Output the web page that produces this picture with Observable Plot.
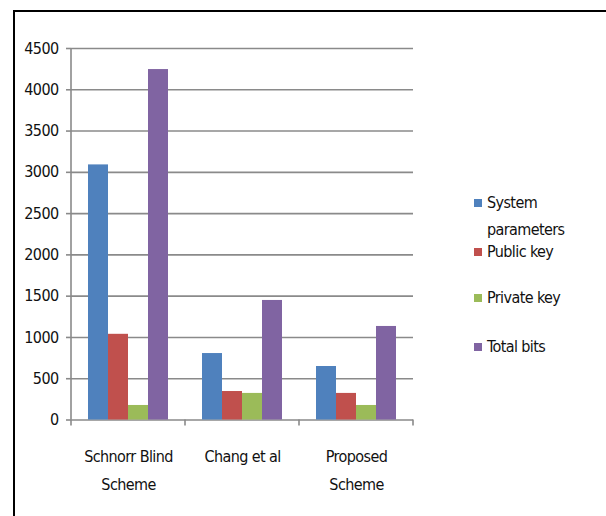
<!DOCTYPE html>
<html>
<head>
<meta charset="utf-8">
<script src="https://cdn.jsdelivr.net/npm/d3@7"></script>
<script src="https://cdn.jsdelivr.net/npm/@observablehq/plot@0.6"></script>
<style>
  html, body { margin: 0; padding: 0; background: #fff; }
  #wrap { position: relative; width: 606px; height: 516px; overflow: hidden;
          font-family: 'DejaVu Sans Condensed', 'DejaVu Sans', sans-serif; font-stretch: condensed; }
  #frame { position: absolute; left: 13px; top: 10px; width: 600px; height: 520px;
           border-left: 2px solid #000; border-top: 2px solid #000; pointer-events: none; }
  .leg { position: absolute; left: 474px; font-size: 16px; letter-spacing: -0.6px; color: #111; line-height: 27px; }
  .leg .sw { position: absolute; left: 0; width: 8px; height: 8px; }
  .leg .tx { position: absolute; left: 13px; white-space: nowrap; }
  #chart { position: absolute; left: 0; top: 0; }
  #chart svg text { letter-spacing: -0.6px; font-stretch: condensed; }
</style>
</head>
<body>
<div id="wrap">
  <div id="chart"></div>
  <div id="frame"></div>
  <div id="legend"></div>
</div>
<script>
const categories = ["Schnorr Blind Scheme", "Chang et al", "Proposed Scheme"];
const categoryLines = [["Schnorr Blind", "Scheme"], ["Chang et al"], ["Proposed", "Scheme"]];
const seriesNames = ["System parameters", "Public key", "Private key", "Total bits"];
const legendLines = [["System", "parameters"], ["Public key"], ["Private key"], ["Total bits"]];
const systemParams = [3090, 805, 648];
const publicKey = [1038, 345, 322];
const privateKey = [176, 322, 176];
const totalBits = [4245, 1448, 1133];
const seriesColors = ["#4F81BD", "#C0504D", "#9BBB59", "#8064A2"];
const yTicks = [0, 500, 1000, 1500, 2000, 2500, 3000, 3500, 4000, 4500];

const seriesValues = [systemParams, publicKey, privateKey, totalBits];
const table = [];
categories.forEach((c, i) => {
  seriesNames.forEach((s, j) => {
    table.push({category: c, series: s, value: seriesValues[j][i]});
  });
});

const plot = Plot.plot({
  width: 606,
  height: 516,
  marginLeft: 70,
  marginRight: 192,
  marginTop: 48,
  marginBottom: 96.5,
  style: {fontFamily: "'DejaVu Sans Condensed', 'DejaVu Sans', sans-serif", fontSize: "16px", color: "#111", background: "transparent"},
  fx: {domain: categories, padding: 0, label: null, axis: null},
  x: {domain: seriesNames, paddingInner: 0, paddingOuter: 0.76, axis: null},
  y: {domain: [0, 4500], label: null},
  color: {domain: seriesNames, range: seriesColors},
  marks: [
    Plot.gridY(yTicks, {stroke: "#8a8a8a", strokeOpacity: 1, strokeWidth: 1.6}),
    Plot.axisY(yTicks, {tickSize: 5, tickPadding: 8, stroke: "#8a8a8a", strokeWidth: 1.6, label: null, fontSize: 16, tickFormat: d => String(d)}),
    Plot.barY(table, {fx: "category", x: "series", y: "value", fill: "series"}),
    Plot.axisFx({anchor: "bottom", tickSize: 0, tickPadding: 22, lineHeight: 1.75, fontSize: 16, label: null,
      tickFormat: d => categoryLines[categories.indexOf(d)].join("\n")})
  ]
});
document.getElementById("chart").appendChild(plot);

// axis line and category boundary ticks from the plot's own scales
const fx = plot.scale("fx");
const ys = plot.scale("y");
const svg = d3.select(plot);
const g = svg.append("g").attr("stroke", "#8a8a8a").attr("stroke-width", 1.6);
const x0 = fx.apply(categories[0]);
const xEnd = fx.apply(categories[categories.length - 1]) + fx.bandwidth;
const y0 = ys.apply(0);
g.append("line").attr("x1", x0).attr("x2", x0).attr("y1", ys.apply(4500)).attr("y2", y0);
const bounds = categories.map(c => fx.apply(c)).concat([xEnd]);
bounds.forEach(b => {
  g.append("line").attr("x1", b).attr("x2", b).attr("y1", y0).attr("y2", y0 + 6);
});

// legend
const legendTops = [189, 238, 284, 333];
const legend = document.getElementById("legend");
seriesNames.forEach((s, i) => {
  const item = document.createElement("div");
  item.className = "leg";
  item.style.top = legendTops[i] + "px";
  const sw = document.createElement("div");
  sw.className = "sw";
  sw.style.background = seriesColors[i];
  sw.style.top = "10px";
  const tx = document.createElement("div");
  tx.className = "tx";
  tx.style.top = "0px";
  tx.innerHTML = legendLines[i].join("<br>");
  item.appendChild(sw);
  item.appendChild(tx);
  legend.appendChild(item);
});
</script>
</body>
</html>
